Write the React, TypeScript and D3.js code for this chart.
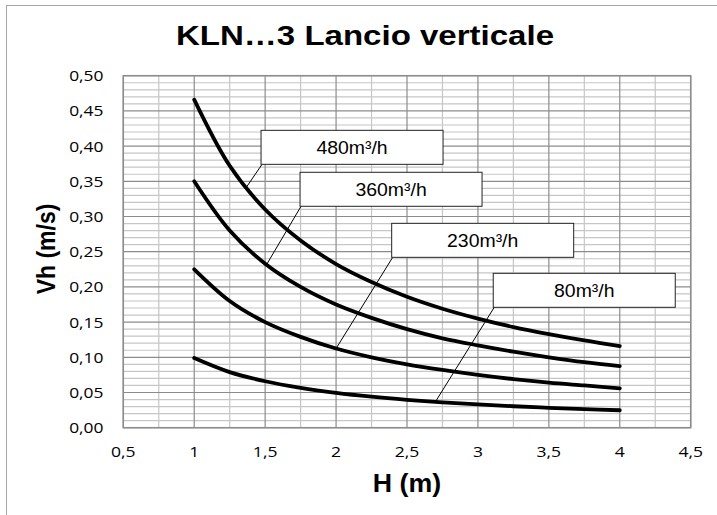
import React from "react";
import * as d3 from "d3";

const hValues = [1, 1.25, 1.5, 1.75, 2, 2.25, 2.5, 2.75, 3, 3.25, 3.5, 3.75, 4];
const v480 = [0.466, 0.372, 0.31, 0.266, 0.2325, 0.207, 0.186, 0.169, 0.155, 0.143, 0.133, 0.124, 0.116];
const v360 = [0.35, 0.28, 0.233, 0.2, 0.175, 0.156, 0.14, 0.127, 0.117, 0.108, 0.1, 0.093, 0.0875];
const v230 = [0.225, 0.18, 0.15, 0.129, 0.1125, 0.1, 0.09, 0.082, 0.075, 0.069, 0.064, 0.06, 0.056];
const v80 = [0.099, 0.079, 0.066, 0.0566, 0.0495, 0.044, 0.0396, 0.036, 0.033, 0.0305, 0.0283, 0.0264, 0.0248];

const seriesNames = ["480m³/h", "360m³/h", "230m³/h", "80m³/h"];
const seriesValues = [v480, v360, v230, v80];
// callout anchor: box top-left in data coords, leader target H on curve
const calloutBoxH = [1.471, 1.746, 2.392, 3.108];
const calloutBoxV = [0.4224, 0.3628, 0.2903, 0.2193];
const calloutTargetH = [1.37, 1.51, 2.0, 2.7];

const xTicks = [0.5, 1, 1.5, 2, 2.5, 3, 3.5, 4, 4.5];
const yTicks = [0, 0.05, 0.1, 0.15, 0.2, 0.25, 0.3, 0.35, 0.4, 0.45, 0.5];

const W = 717;
const H = 515;
const left = 123.3, right = 690.7, top = 75.7, bottom = 427.7;
const SANS = "'Liberation Sans', Arial, sans-serif";
const TICKFONT = "'Open Sans', sans-serif";

export default function App() {
  const x = d3.scaleLinear().domain([0.5, 4.5]).range([left, right]);
  const y = d3.scaleLinear().domain([0, 0.5]).range([bottom, top]);
  const fmt = (v: number, d: number) => v.toFixed(d).replace(".", ",");

  const minorX = d3.range(0, 17).map((i) => 0.5 + i * 0.25).filter((v) => Math.abs((v * 2) % 1) > 1e-6);
  const minorY = d3.range(0, 51).map((i) => i * 0.01).filter((_, i) => i % 5 !== 0);

  const line = d3
    .line<number>()
    .x((_, i) => x(hValues[i]))
    .y((d) => y(d))
    .curve(d3.curveCatmullRom.alpha(0.5));

  const valueAt = (vals: number[], h: number) => d3.scaleLinear().domain(hValues).range(vals)(h);

  const boxW = 182, boxH = 34;

  return (
    <svg width={W} height={H} style={{ position: "absolute", left: 0, top: 0, background: "#fff" }}>
      <rect x={6.5} y={5.5} width={800} height={800} fill="#fff" stroke="#a6a6a6" strokeWidth={1} />
      <text transform="translate(365,45) scale(1.18,1)" textAnchor="middle" fontFamily={SANS} fontWeight="bold" fontSize={28} fill="#000">
        KLN…3 Lancio verticale
      </text>
      {/* minor grid */}
      {minorY.map((v) => (
        <line key={"my" + v} x1={left} x2={right} y1={y(v)} y2={y(v)} stroke="#c6c6c6" strokeWidth={1.2} />
      ))}
      {minorX.map((v) => (
        <line key={"mx" + v} x1={x(v)} x2={x(v)} y1={top} y2={bottom} stroke="#c6c6c6" strokeWidth={1.2} />
      ))}
      {/* major grid */}
      {yTicks.map((v) => (
        <line key={"gy" + v} x1={left} x2={right} y1={y(v)} y2={y(v)} stroke="#8c8c8c" strokeWidth={1.2} />
      ))}
      {xTicks.map((v) => (
        <line key={"gx" + v} x1={x(v)} x2={x(v)} y1={top} y2={bottom} stroke="#8c8c8c" strokeWidth={1.2} />
      ))}
      <rect x={left} y={top} width={right - left} height={bottom - top} fill="none" stroke="#8c8c8c" strokeWidth={1.5} />
      {/* tick labels */}
      {yTicks.map((v) => (
        <text key={"ty" + v} transform={`translate(103.5,${y(v) + 5.5}) scale(1.16,1)`} textAnchor="end" fontFamily={TICKFONT} fontSize={15} fill="#000">
          {fmt(v, 2)}
        </text>
      ))}
      {xTicks.map((v) => (
        <text key={"tx" + v} transform={`translate(${x(v)},457) scale(1.17,1)`} textAnchor="middle" fontFamily={TICKFONT} fontSize={15} fill="#000">
          {v % 1 === 0 ? String(v) : fmt(v, 1)}
        </text>
      ))}
      {/* axis titles */}
      <text transform="translate(407,492) scale(1.07,1)" textAnchor="middle" fontFamily={SANS} fontWeight="bold" fontSize={25} fill="#000">
        H (m)
      </text>
      <text transform="translate(55,249) scale(1.1,1) rotate(-90)" textAnchor="middle" fontFamily={SANS} fontWeight="bold" fontSize={23} fill="#000">
        Vh (m/s)
      </text>
      {/* series */}
      {seriesValues.map((vals, i) => (
        <path key={"s" + i} d={line(vals) || ""} fill="none" stroke="#000" strokeWidth={3.8} strokeLinecap="round" />
      ))}
      {/* callouts */}
      {seriesNames.map((name, i) => {
        const bx = x(calloutBoxH[i]);
        const by = y(calloutBoxV[i]);
        const th = calloutTargetH[i];
        const tx = x(th);
        const ty = y(valueAt(seriesValues[i], th));
        return (
          <g key={"c" + i}>
            <line x1={bx + 1} y1={by + boxH} x2={tx} y2={ty} stroke="#000" strokeWidth={1} />
            <rect x={bx} y={by} width={boxW} height={boxH} fill="#fff" stroke="#222" strokeWidth={1} />
            <text transform={`translate(${bx + boxW / 2},${by + 24}) scale(1.08,1)`} textAnchor="middle" fontFamily={SANS} fontSize={18} fill="#000">
              {name}
            </text>
          </g>
        );
      })}
    </svg>
  );
}
